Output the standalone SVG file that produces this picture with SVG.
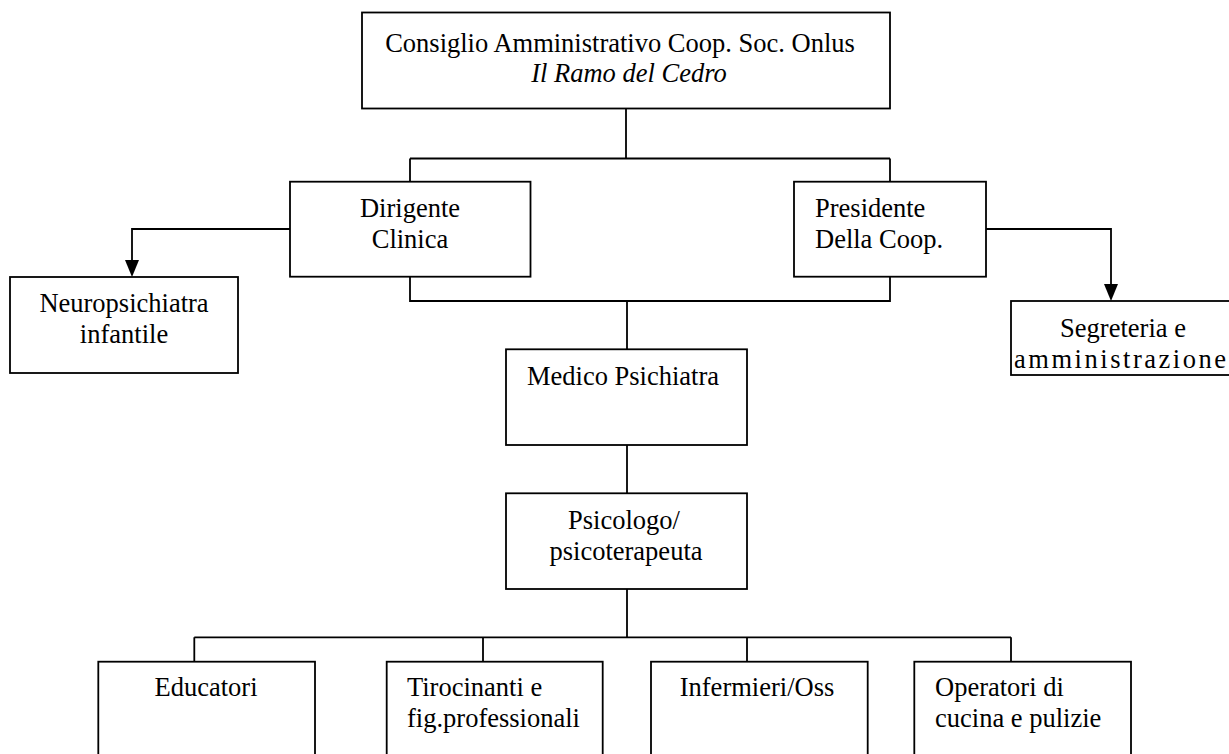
<svg xmlns="http://www.w3.org/2000/svg" width="1229" height="754" viewBox="0 0 1229 754">
<style>
.box{fill:#fff;stroke:#000;stroke-width:1.8}
.ln{fill:none;stroke:#000;stroke-width:1.8}
text{font-family:"Liberation Serif","Times New Roman",serif;font-size:26.5px;fill:#000}
.c{text-anchor:middle}
.i{font-style:italic}
</style>
<defs>
<marker id="arr" viewBox="0 0 14 18" refX="7" refY="18" markerWidth="14" markerHeight="18" markerUnits="userSpaceOnUse" orient="auto">
<path d="M0,0 L14,0 L7,18 Z" fill="#000"/>
</marker>
</defs>
<rect width="1229" height="754" fill="#fff"/>
<g id="connectors">
<path class="ln" d="M626,108.5 V158.5 M410,158.5 H890 M410,158.5 V181.7 M890,158.5 V181.7"/>
<path class="ln" d="M290,229 H132 V261"/>
<path d="M125,260 L139,260 L132,277 Z" fill="#000"/>
<path class="ln" d="M986,229 H1111 V285"/>
<path d="M1104,284 L1118,284 L1111,301 Z" fill="#000"/>
<path class="ln" d="M410,276.7 V301 H890 V276.7 M627,301 V349.3"/>
<path class="ln" d="M627,445 V493.3"/>
<path class="ln" d="M627,589 V637.3 M194.3,637.3 H1011 M194.3,637.3 V661.7 M483,637.3 V661.7 M747,637.3 V661.7 M1011,637.3 V661.7"/>
</g>
<g id="consiglio">
<rect class="box" x="362" y="12.5" width="528" height="96"/>
<text class="c" x="620" y="51.5">Consiglio Amministrativo Coop. Soc. Onlus</text>
<text class="c i" x="629" y="82">Il Ramo del Cedro</text>
</g>
<g id="dirigente">
<rect class="box" x="290" y="181.7" width="240.5" height="95"/>
<text class="c" x="410" y="216.7">Dirigente</text>
<text class="c" x="410" y="247.5">Clinica</text>
</g>
<g id="presidente">
<rect class="box" x="794" y="181.7" width="192" height="95"/>
<text x="815" y="216.7">Presidente</text>
<text x="815" y="247.5">Della Coop.</text>
</g>
<g id="neuropsichiatra">
<rect class="box" x="10" y="277" width="228" height="96"/>
<text class="c" x="124" y="312">Neuropsichiatra</text>
<text class="c" x="124" y="343">infantile</text>
</g>
<g id="segreteria">
<rect class="box" x="1011" y="301" width="240" height="74"/>
<text class="c" x="1123" y="337">Segreteria e</text>
<text x="1014" y="368" textLength="212" lengthAdjust="spacing">amministrazione</text>
</g>
<g id="medico">
<rect class="box" x="506" y="349.3" width="241" height="95.7"/>
<text class="c" x="623" y="384.5">Medico Psichiatra</text>
</g>
<g id="psicologo">
<rect class="box" x="506" y="493.3" width="241" height="95.7"/>
<text class="c" x="624" y="528.5">Psicologo/</text>
<text class="c" x="626" y="560">psicoterapeuta</text>
</g>
<g id="educatori">
<rect class="box" x="98.3" y="661.7" width="216.7" height="110"/>
<text class="c" x="206" y="696">Educatori</text>
</g>
<g id="tirocinanti">
<rect class="box" x="386.7" y="661.7" width="216" height="110"/>
<text x="407" y="696">Tirocinanti e</text>
<text x="407" y="727">fig.professionali</text>
</g>
<g id="infermieri">
<rect class="box" x="651" y="661.7" width="216.7" height="110"/>
<text class="c" x="757" y="696">Infermieri/Oss</text>
</g>
<g id="operatori">
<rect class="box" x="914.3" y="661.7" width="216.7" height="110"/>
<text x="935" y="696">Operatori di</text>
<text x="935" y="727">cucina e pulizie</text>
</g>
</svg>
